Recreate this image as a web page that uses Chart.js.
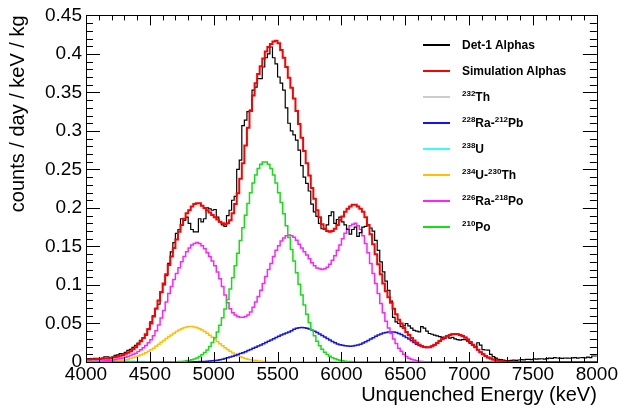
<!DOCTYPE html>
<html>
<head>
<meta charset="utf-8">
<script src="https://cdn.jsdelivr.net/npm/chart.js@4/dist/chart.umd.min.js"></script>
<style>
  body { margin: 0; background: #fff; }
  #wrap { position: relative; width: 619px; height: 410px; }
  #c { display: block; }
  .lg-row { position: absolute; left: 0; height: 16px; }
  .lg-line { position: absolute; left: 423px; width: 27px; height: 2px; }
  .lg-text { position: absolute; left: 462px; white-space: nowrap; font: bold 12px "Liberation Sans", Arial, Helvetica, sans-serif; line-height: 16px; color: #000; }
  .lg-text sup { font-size: 8px; line-height: 0; vertical-align: 0; position: relative; top: -5px; }
</style>
</head>
<body>
<div id="wrap">
  <canvas id="c" width="619" height="410"></canvas>
  <div id="legend"></div>
</div>
<script>
// histogram bins: 20 keV wide, 4000 - 8000 keV
const binLow = 4000;
const binWidth = 20;

const xTicks = [4000, 4500, 5000, 5500, 6000, 6500, 7000, 7500, 8000];
const xTickLabels = ['4000', '4500', '5000', '5500', '6000', '6500', '7000', '7500', '8000'];
const yTicks = [0, 0.05, 0.1, 0.15, 0.2, 0.25, 0.3, 0.35, 0.4, 0.45];
const yTickLabels = ['0', '0.05', '0.1', '0.15', '0.2', '0.25', '0.3', '0.35', '0.4', '0.45'];

// Det-1 Alphas (data)
const det1 = [
  0.0042,0.0045,0.0040,0.0048,0.0046,0.0044,0.0050,0.0068,0.0066,0.0058,
  0.0065,0.0085,0.0092,0.0110,0.0105,0.0125,0.0150,0.0165,0.0190,0.0215,
  0.0245,0.0280,0.0310,0.0350,0.0420,0.0520,0.0600,0.0696,0.0750,0.0900,
  0.1000,0.1120,0.1280,0.1430,0.1550,0.1670,0.1720,0.1860,0.1840,0.1880,
  0.1800,0.1720,0.1690,0.1690,0.1860,0.1820,0.1860,0.2000,0.1990,0.1970,
  0.1980,0.1880,0.1820,0.1780,0.1760,0.1900,0.1970,0.2100,0.2150,0.2500,
  0.2620,0.3070,0.3140,0.3250,0.3270,0.3530,0.3570,0.3680,0.3680,0.3830,
  0.3950,0.4000,0.4090,0.3950,0.3870,0.3700,0.3620,0.3530,0.3300,0.3100,
  0.3000,0.2950,0.2880,0.2750,0.2550,0.2400,0.2320,0.2220,0.2050,0.1950,
  0.1890,0.1800,0.1730,0.1720,0.1780,0.1900,0.1950,0.1800,0.1850,0.1880,
  0.1820,0.1780,0.1720,0.1660,0.1720,0.1750,0.1630,0.1680,0.1750,0.1760,
  0.1780,0.1740,0.1700,0.1580,0.1450,0.1300,0.1170,0.1050,0.0930,0.0790,
  0.0580,0.0520,0.0500,0.0460,0.0470,0.0500,0.0470,0.0440,0.0410,0.0400,
  0.0390,0.0460,0.0440,0.0400,0.0370,0.0360,0.0350,0.0340,0.0330,0.0320,
  0.0310,0.0330,0.0310,0.0320,0.0300,0.0290,0.0285,0.0290,0.0290,0.0270,
  0.0240,0.0220,0.0200,0.0250,0.0220,0.0160,0.0156,0.0155,0.0100,0.0069,
  0.0050,0.0035,0.0030,0.0025,0.0017,0.0017,0.0020,0.0025,0.0022,0.0026,
  0.0030,0.0028,0.0035,0.0035,0.0032,0.0040,0.0038,0.0040,0.0042,0.0038,
  0.0045,0.0050,0.0048,0.0056,0.0052,0.0050,0.0048,0.0052,0.0050,0.0049,
  0.0053,0.0056,0.0051,0.0055,0.0057,0.0054,0.0062,0.0058,0.0078,0.0078
];

// Simulation Alphas (total)
const simTotal = [
  0.0032,0.0033,0.0035,0.0036,0.0038,0.0039,0.0041,0.0044,0.0047,0.0052,
  0.0058,0.0064,0.0071,0.0081,0.0092,0.0106,0.0121,0.0141,0.0164,0.0190,
  0.0230,0.0270,0.0310,0.0360,0.0430,0.0500,0.0590,0.0690,0.0800,0.0910,
  0.1020,0.1140,0.1260,0.1370,0.1480,0.1590,0.1690,0.1780,0.1860,0.1930,
  0.1970,0.2020,0.2050,0.2060,0.2060,0.2030,0.2000,0.1970,0.1940,0.1910,
  0.1880,0.1850,0.1820,0.1800,0.1790,0.1800,0.1840,0.1930,0.2050,0.2190,
  0.2380,0.2580,0.2810,0.3040,0.3260,0.3460,0.3620,0.3740,0.3840,0.3940,
  0.4030,0.4090,0.4130,0.4160,0.4170,0.4140,0.4050,0.3950,0.3830,0.3690,
  0.3560,0.3420,0.3260,0.3090,0.2910,0.2740,0.2580,0.2420,0.2260,0.2120,
  0.1970,0.1880,0.1790,0.1730,0.1700,0.1690,0.1700,0.1730,0.1780,0.1840,
  0.1890,0.1950,0.1990,0.2020,0.2040,0.2040,0.2020,0.1990,0.1950,0.1880,
  0.1780,0.1660,0.1530,0.1400,0.1270,0.1140,0.1020,0.0920,0.0840,0.0770,
  0.0690,0.0620,0.0550,0.0500,0.0440,0.0390,0.0350,0.0310,0.0280,0.0250,
  0.0224,0.0207,0.0196,0.0190,0.0191,0.0205,0.0225,0.0248,0.0272,0.0296,
  0.0318,0.0336,0.0350,0.0359,0.0362,0.0360,0.0352,0.0338,0.0318,0.0293,
  0.0260,0.0225,0.0190,0.0158,0.0128,0.0101,0.0078,0.0059,0.0044,0.0032,
  0.0023,0.0016,0.0011,0.0007,0.0005,0.0003,0.0002,0.0001,0,0,
  0,0,0,0,0,0,0,0,0,0,
  0,0,0,0,0,0,0,0,0,0,
  0,0,0,0,0,0,0,0,0,0
];

// 232Th
const th232 = [
  0.0015,0.0014,0.0013,0.0012,0.0011,0.0010,0.0009,0.0008,0.0007,0.0006,
  0.0005,0.0004,0.0003,0.0003,0.0002,0.0002,0.0001,0.0001,0.0001,0,
  0,0,0,0,0,0,0,0,0,0, 0,0,0,0,0,0,0,0,0,0,
  0,0,0,0,0,0,0,0,0,0, 0,0,0,0,0,0,0,0,0,0,
  0,0,0,0,0,0,0,0,0,0, 0,0,0,0,0,0,0,0,0,0,
  0,0,0,0,0,0,0,0,0,0, 0,0,0,0,0,0,0,0,0,0,
  0,0,0,0,0,0,0,0,0,0, 0,0,0,0,0,0,0,0,0,0,
  0,0,0,0,0,0,0,0,0,0, 0,0,0,0,0,0,0,0,0,0,
  0,0,0,0,0,0,0,0,0,0, 0,0,0,0,0,0,0,0,0,0,
  0,0,0,0,0,0,0,0,0,0, 0,0,0,0,0,0,0,0,0,0,
  0,0,0,0,0,0,0,0,0,0, 0,0,0,0,0,0,0,0,0,0
];

// 228Ra-212Pb
const ra228 = [
  0,0,0,0,0,0,0,0,0,0, 0,0,0,0,0,0,0,0,0,0,
  0,0,0,0,0,0,0,0,0,0, 0,0,0,0,0,0,0,0,0,0,
  0.0001,0.0002,0.0003,0.0004,0.0005,0.0006,0.0007,0.0009,0.0012,0.0015,
  0.0019,0.0024,0.0030,0.0037,0.0045,0.0054,0.0064,0.0075,0.0086,0.0097,
  0.0109,0.0121,0.0134,0.0148,0.0162,0.0177,0.0192,0.0207,0.0222,0.0238,
  0.0254,0.0270,0.0286,0.0302,0.0318,0.0334,0.0349,0.0363,0.0377,0.0390,
  0.0407,0.0425,0.0438,0.0445,0.0447,0.0445,0.0438,0.0428,0.0415,0.0400,
  0.0383,0.0364,0.0345,0.0325,0.0305,0.0285,0.0266,0.0249,0.0235,0.0224,
  0.0216,0.0210,0.0207,0.0206,0.0208,0.0213,0.0221,0.0232,0.0246,0.0262,
  0.0280,0.0298,0.0316,0.0333,0.0349,0.0363,0.0375,0.0384,0.0389,0.0391,
  0.0389,0.0382,0.0371,0.0356,0.0338,0.0318,0.0297,0.0275,0.0253,0.0232,
  0.0213,0.0200,0.0192,0.0188,0.0190,0.0205,0.0225,0.0248,0.0272,0.0296,
  0.0318,0.0336,0.0350,0.0359,0.0362,0.0360,0.0352,0.0338,0.0318,0.0293,
  0.0260,0.0225,0.0190,0.0158,0.0128,0.0101,0.0078,0.0059,0.0044,0.0032,
  0.0023,0.0016,0.0011,0.0007,0.0005,0.0003,0.0002,0.0001,0,0,
  0,0,0,0,0,0,0,0,0,0, 0,0,0,0,0,0,0,0,0,0,
  0,0,0,0,0,0,0,0,0,0
];

// 238U
const u238 = [
  0.0011,0.0012,0.0014,0.0015,0.0016,0.0017,0.0018,0.0018,0.0018,0.0018,
  0.0018,0.0018,0.0017,0.0016,0.0015,0.0014,0.0012,0.0011,0.0010,0.0008,
  0.0007,0.0006,0.0005,0.0004,0.0003,0.0003,0.0002,0.0002,0.0001,0.0001,
  0.0001,0.0001,0.0001,0,0,0,0,0,0,0,
  0,0,0,0,0,0,0,0,0,0, 0,0,0,0,0,0,0,0,0,0,
  0,0,0,0,0,0,0,0,0,0, 0,0,0,0,0,0,0,0,0,0,
  0,0,0,0,0,0,0,0,0,0, 0,0,0,0,0,0,0,0,0,0,
  0,0,0,0,0,0,0,0,0,0, 0,0,0,0,0,0,0,0,0,0,
  0,0,0,0,0,0,0,0,0,0, 0,0,0,0,0,0,0,0,0,0,
  0,0,0,0,0,0,0,0,0,0, 0,0,0,0,0,0,0,0,0,0,
  0,0,0,0,0,0,0,0,0,0, 0,0,0,0,0,0,0,0,0,0
];

// 234U-230Th
const u234 = [
  0.0001,0.0001,0.0001,0.0001,0.0002,0.0002,0.0002,0.0003,0.0004,0.0006,
  0.0008,0.0010,0.0013,0.0017,0.0022,0.0028,0.0035,0.0044,0.0054,0.0065,
  0.0077,0.0090,0.0105,0.0120,0.0140,0.0160,0.0180,0.0205,0.0230,0.0255,
  0.0280,0.0305,0.0330,0.0350,0.0372,0.0395,0.0416,0.0433,0.0446,0.0455,
  0.0460,0.0460,0.0455,0.0446,0.0433,0.0416,0.0395,0.0372,0.0347,0.0320,
  0.0293,0.0265,0.0237,0.0211,0.0185,0.0161,0.0138,0.0118,0.0099,0.0083,
  0.0069,0.0056,0.0046,0.0037,0.0029,0.0023,0.0018,0.0014,0.0010,0.0008,
  0.0006,0.0004,0.0003,0.0002,0.0001,0.0001,0,0,0,0,
  0,0,0,0,0,0,0,0,0,0, 0,0,0,0,0,0,0,0,0,0,
  0,0,0,0,0,0,0,0,0,0, 0,0,0,0,0,0,0,0,0,0,
  0,0,0,0,0,0,0,0,0,0, 0,0,0,0,0,0,0,0,0,0,
  0,0,0,0,0,0,0,0,0,0, 0,0,0,0,0,0,0,0,0,0,
  0,0,0,0,0,0,0,0,0,0, 0,0,0,0,0,0,0,0,0,0
];

// 226Ra-218Po
const ra226 = [
  0.0005,0.0006,0.0007,0.0008,0.0009,0.0010,0.0012,0.0015,0.0018,0.0022,
  0.0027,0.0032,0.0038,0.0045,0.0053,0.0062,0.0073,0.0085,0.0099,0.0115,
  0.0135,0.0158,0.0185,0.0215,0.0250,0.0290,0.0340,0.0405,0.0480,0.0570,
  0.0670,0.0780,0.0890,0.0980,0.1070,0.1150,0.1225,0.1300,0.1370,0.1430,
  0.1480,0.1520,0.1540,0.1550,0.1540,0.1510,0.1470,0.1420,0.1370,0.1310,
  0.1250,0.1170,0.1080,0.0980,0.0870,0.0770,0.0690,0.0640,0.0610,0.0590,
  0.0580,0.0580,0.0590,0.0610,0.0650,0.0710,0.0780,0.0850,0.0930,0.1020,
  0.1110,0.1200,0.1280,0.1370,0.1450,0.1510,0.1570,0.1610,0.1640,0.1650,
  0.1640,0.1620,0.1580,0.1530,0.1480,0.1430,0.1390,0.1340,0.1290,0.1250,
  0.1220,0.1210,0.1200,0.1210,0.1230,0.1270,0.1320,0.1380,0.1450,0.1520,
  0.1600,0.1670,0.1730,0.1770,0.1790,0.1800,0.1770,0.1720,0.1640,0.1540,
  0.1420,0.1280,0.1150,0.1020,0.0890,0.0760,0.0640,0.0530,0.0440,0.0370,
  0.0300,0.0240,0.0180,0.0140,0.0100,0.0070,0.0050,0.0035,0.0025,0.0017,
  0.0011,0.0007,0.0004,0.0002,0.0001,0,0,0,0,0,
  0,0,0,0,0,0,0,0,0,0, 0,0,0,0,0,0,0,0,0,0,
  0,0,0,0,0,0,0,0,0,0, 0,0,0,0,0,0,0,0,0,0,
  0,0,0,0,0,0,0,0,0,0, 0,0,0,0,0,0,0,0,0,0
];

// 210Po
const po210 = [
  0,0,0,0,0,0,0,0,0,0, 0,0,0,0,0,0,0,0,0,0,
  0,0,0,0,0,0,0,0,0,0,
  0,0,0,0,0.0002,0.0003,0.0005,0.0007,0.0011,0.0015,
  0.0021,0.0029,0.0039,0.0053,0.0071,0.0093,0.0122,0.0157,0.0201,0.0253,
  0.0316,0.0390,0.0477,0.0575,0.0687,0.0811,0.0947,0.1094,0.1250,0.1411,
  0.1577,0.1742,0.1904,0.2057,0.2199,0.2324,0.2429,0.2512,0.2568,0.2596,
  0.2596,0.2568,0.2512,0.2429,0.2324,0.2199,0.2070,0.1925,0.1770,0.1615,
  0.1460,0.1310,0.1160,0.1010,0.0870,0.0740,0.0620,0.0510,0.0420,0.0340,
  0.0270,0.0210,0.0165,0.0128,0.0098,0.0074,0.0055,0.0041,0.0030,0.0022,
  0.0015,0.0011,0.0007,0.0005,0.0003,0.0002,0.0001,0,0,0,
  0,0,0,0,0,0,0,0,0,0, 0,0,0,0,0,0,0,0,0,0,
  0,0,0,0,0,0,0,0,0,0, 0,0,0,0,0,0,0,0,0,0,
  0,0,0,0,0,0,0,0,0,0, 0,0,0,0,0,0,0,0,0,0,
  0,0,0,0,0,0,0,0,0,0, 0,0,0,0,0,0,0,0,0,0
];

const series = [
  { name: 'Det-1 Alphas',        data: det1,     color: '#000000', width: 1.2, order: 1 },
  { name: 'Simulation Alphas',   data: simTotal, color: '#ff0000', width: 2,   order: 0 },
  { name: '<sup>232</sup>Th',               data: th232, color: '#cccccc', width: 1.5, order: 7 },
  { name: '<sup>228</sup>Ra-<sup>212</sup>Pb', data: ra228, color: '#1414e6', width: 1.5, order: 4 },
  { name: '<sup>238</sup>U',                data: u238,  color: '#33ffff', width: 1.5, order: 6 },
  { name: '<sup>234</sup>U-<sup>230</sup>Th',  data: u234,  color: '#ffc000', width: 1.5, order: 5 },
  { name: '<sup>226</sup>Ra-<sup>218</sup>Po', data: ra226, color: '#ff22ff', width: 1.5, order: 3 },
  { name: '<sup>210</sup>Po',               data: po210, color: '#11e011', width: 1.5, order: 2 }
];

// ROOT-like histogram: point on each low bin edge, last point closes the final bin
function histPoints(vals) {
  const pts = vals.map((v, i) => ({ x: binLow + i * binWidth, y: v }));
  pts.push({ x: binLow + vals.length * binWidth, y: vals[vals.length - 1] });
  return pts;
}

// frame + inward ticks on all four sides
const frameTicks = {
  id: 'frameTicks',
  afterDatasetsDraw(chart) {
    const { ctx, chartArea: a, scales: { x, y } } = chart;
    ctx.save();
    ctx.strokeStyle = '#000';
    ctx.lineWidth = 1;
    ctx.beginPath();
    for (let e = xTicks[0]; e <= xTicks[xTicks.length - 1]; e += 100) {
      const px = Math.round(x.getPixelForValue(e)) + 0.5;
      const len = e % 500 === 0 ? 10 : 5;
      ctx.moveTo(px, a.bottom); ctx.lineTo(px, a.bottom - len);
      ctx.moveTo(px, a.top); ctx.lineTo(px, a.top + len);
    }
    for (let k = 0; k <= 45; k++) {
      const py = Math.round(y.getPixelForValue(k / 100)) + 0.5;
      const len = k % 5 === 0 ? 14 : 7;
      ctx.moveTo(a.left, py); ctx.lineTo(a.left + len, py);
      ctx.moveTo(a.right, py); ctx.lineTo(a.right - len, py);
    }
    ctx.stroke();
    ctx.strokeRect(Math.round(a.left) + 0.5, Math.round(a.top) + 0.5,
      Math.round(a.right - a.left), Math.round(a.bottom - a.top));
    ctx.restore();
  }
};

Chart.defaults.font.family = '"Liberation Sans", Arial, Helvetica, sans-serif';
Chart.defaults.color = '#000';

new Chart(document.getElementById('c'), {
  type: 'line',
  data: {
    datasets: series.map(s => ({
      label: s.name.replace(/<\/?sup>/g, ''),
      data: histPoints(s.data),
      borderColor: s.color,
      borderWidth: s.width,
      stepped: 'before',
      fill: false,
      pointRadius: 0,
      order: s.order
    }))
  },
  options: {
    responsive: false,
    animation: false,
    devicePixelRatio: 1,
    layout: { padding: { top: 15, right: 21, bottom: 0, left: 0 } },
    plugins: { legend: { display: false }, tooltip: { enabled: false } },
    scales: {
      x: {
        type: 'linear', min: 4000, max: 8000,
        afterBuildTicks: s => { s.ticks = xTicks.map(v => ({ value: v })); },
        afterFit: s => { s.height = 48; },
        ticks: { font: { size: 19 }, color: '#000', padding: 1, maxRotation: 0, autoSkip: false,
                 callback: (v, i) => xTickLabels[i] },
        grid: { display: false, drawTicks: false },
        border: { display: false },
        title: { display: true, text: 'Unquenched Energy (keV)', align: 'end', color: '#000',
                 font: { size: 20 }, padding: { top: 0, bottom: 3 } }
      },
      y: {
        type: 'linear', min: 0, max: 0.45,
        afterBuildTicks: s => { s.ticks = yTicks.map(v => ({ value: v })); },
        afterFit: s => { s.width = 86; },
        ticks: { font: { size: 19 }, color: '#000', padding: 4, autoSkip: false,
                 callback: (v, i) => yTickLabels[i] },
        grid: { display: false, drawTicks: false },
        border: { display: false },
        title: { display: true, text: 'counts / day / keV / kg', align: 'end', color: '#000',
                 font: { size: 20 }, padding: { top: 6, bottom: 0 } }
      }
    }
  },
  plugins: [frameTicks]
});

// legend box (html so the isotope numbers can be superscripts)
const legendRowY = [45, 71, 97, 123, 149, 175, 201, 227];
const legend = document.getElementById('legend');
series.forEach((s, i) => {
  const row = document.createElement('div');
  row.className = 'lg-row';
  row.style.top = (legendRowY[i] - 8) + 'px';
  row.innerHTML = '<div class="lg-line" style="top:7px;background:' + s.color + '"></div>' +
                  '<span class="lg-text">' + s.name + '</span>';
  legend.appendChild(row);
});
</script>
</body>
</html>
